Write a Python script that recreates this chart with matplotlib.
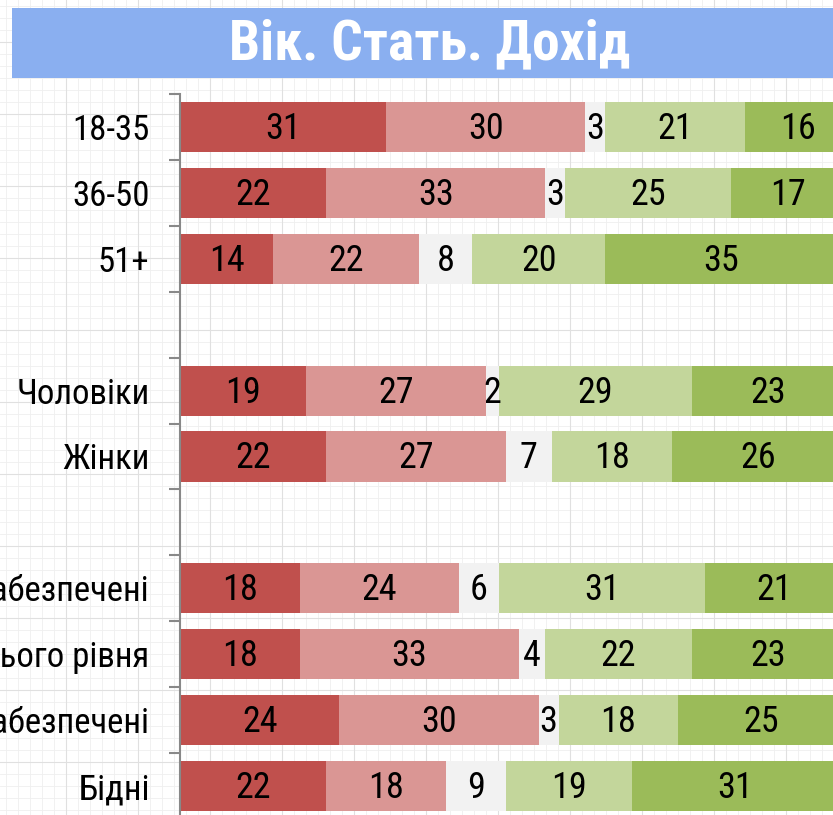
import matplotlib
matplotlib.use("Agg")
import matplotlib.pyplot as plt
from matplotlib.patches import Rectangle
import numpy as np

plt.rcParams['font.family'] = ['Roboto Condensed', 'DejaVu Sans']

# дані: групи, відсотки по п'яти категоріях відповідей
categories = ['18-35', '36-50', '51+', '', 'Чоловіки', 'Жінки', '',
              'Забезпечені', 'Середнього рівня', 'Малозабезпечені', 'Бідні']
s1 = [31, 22, 14, None, 19, 22, None, 18, 18, 24, 22]
s2 = [30, 33, 22, None, 27, 27, None, 24, 33, 30, 18]
s3 = [3, 3, 8, None, 2, 7, None, 6, 4, 3, 9]
s4 = [21, 25, 20, None, 29, 18, None, 31, 22, 18, 19]
s5 = [16, 17, 35, None, 23, 26, None, 21, 23, 25, 31]
colors = ['#C0504D', '#DA9694', '#F2F2F2', '#C3D69B', '#9BBB59']

W, H = 833, 815
fig = plt.figure(figsize=(W / 100, H / 100), dpi=100)
fig.patch.set_facecolor('white')

# фон "міліметрівка"
bg = fig.add_axes([0, 0, 1, 1], zorder=0)
bg.set_xlim(0, W)
bg.set_ylim(H, 0)
for x in np.arange(6, W, 12):
    bg.axvline(x, color='#efefef', lw=0.6)
for y in np.arange(6, H, 12):
    bg.axhline(y, color='#efefef', lw=0.6)
for x in np.arange(66, W, 72):
    bg.axvline(x, color='#e0e0e0', lw=0.8)
for y in np.arange(42, H, 72):
    bg.axhline(y, color='#e0e0e0', lw=0.8)
bg.axis('off')

# заголовок
bg.add_patch(Rectangle((12, 8), W - 12, 70, facecolor='#8AAFF0', edgecolor='none', zorder=3))
bg.text(430, 44, 'Вік. Стать. Дохід', color='white', fontsize=40, fontweight='bold',
        ha='center', va='center', zorder=4)

# основний графік
left, top, bottom = 180, 94, 819
ax = fig.add_axes([left / W, (H - bottom) / H, (W - left) / W, (bottom - top) / H], zorder=1)
ax.patch.set_alpha(0)

n = len(categories)
y = np.arange(n)
series = [s1, s2, s3, s4, s5]
lefts = np.zeros(n)
for vals, c in zip(series, colors):
    v = np.array([0 if a is None else a for a in vals], dtype=float)
    bars = ax.barh(y, v, left=lefts, height=0.76, color=c, edgecolor='none')
    for i, b in enumerate(bars):
        if vals[i] is None:
            continue
        ax.text(lefts[i] + v[i] / 2, y[i] + 0.03, str(vals[i]), ha='center', va='center',
                fontsize=26, color='black')
    lefts += v

ax.set_xlim(0, 98.3)
ax.set_ylim(n - 0.5, -0.5)
ax.set_yticks(y)
ax.set_yticklabels(categories, fontsize=25)
ax.tick_params(axis='y', which='major', length=0, pad=22)
ax.set_yticks(np.arange(n + 1) - 0.5, minor=True)
ax.tick_params(axis='y', which='minor', length=8, width=1.5, color='#888888')
ax.set_xticks([])
for side in ['top', 'right', 'bottom']:
    ax.spines[side].set_visible(False)
ax.spines['left'].set_color('#888888')
ax.spines['left'].set_linewidth(1.5)

fig.savefig('out.png', dpi=100)
